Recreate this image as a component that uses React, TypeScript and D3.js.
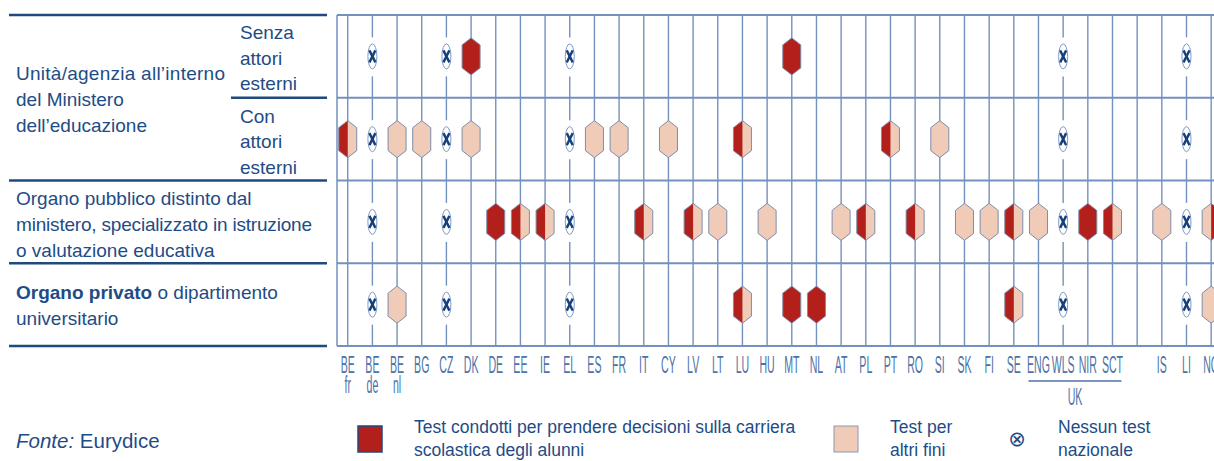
import * as d3 from 'd3';
import React from 'react';

type Mark = 'X' | 'D' | 'L' | 'H' | 'R';

const width = 1214;
const height = 461;

// columns (the empty one separates UK from IS)
const columns = ["BE fr", "BE de", "BE nl", "BG", "CZ", "DK", "DE", "EE", "IE", "EL", "ES", "FR", "IT", "CY", "LV", "LT", "LU", "HU", "MT", "NL", "AT", "PL", "PT", "RO", "SI", "SK", "FI", "SE", "ENG", "WLS", "NIR", "SCT", "gap", "IS", "LI", "NO"];
const ukColumns = ["ENG", "WLS", "NIR", "SCT"];

const rows = ["senza", "con", "pubblico", "privato"];

// X = nessun test, D = decisioni carriera, L = altri fini, H = entrambi, R = entrambi (invertito)
const senzaAttori: [string, Mark][] = [["BE de", "X"], ["CZ", "X"], ["DK", "D"], ["EL", "X"], ["MT", "D"], ["WLS", "X"], ["LI", "X"]];
const conAttori: [string, Mark][] = [["BE fr", "H"], ["BE de", "X"], ["BE nl", "L"], ["BG", "L"], ["CZ", "X"], ["DK", "L"], ["EL", "X"], ["ES", "L"], ["FR", "L"], ["CY", "L"], ["LU", "H"], ["PT", "H"], ["SI", "L"], ["WLS", "X"], ["LI", "X"]];
const organoPubblico: [string, Mark][] = [["BE de", "X"], ["CZ", "X"], ["DE", "D"], ["EE", "H"], ["IE", "H"], ["EL", "X"], ["IT", "H"], ["LV", "H"], ["LT", "L"], ["HU", "L"], ["AT", "L"], ["PL", "H"], ["RO", "H"], ["SK", "L"], ["FI", "L"], ["SE", "H"], ["ENG", "L"], ["WLS", "X"], ["NIR", "D"], ["SCT", "H"], ["IS", "L"], ["LI", "X"], ["NO", "R"]];
const organoPrivato: [string, Mark][] = [["BE de", "X"], ["BE nl", "L"], ["CZ", "X"], ["EL", "X"], ["LU", "H"], ["MT", "D"], ["NL", "D"], ["SE", "H"], ["WLS", "X"], ["LI", "X"], ["NO", "L"]];

const rowData = [senzaAttori, conAttori, organoPubblico, organoPrivato];

const dark = "#B3201B";
const light = "#F0CBB8";
const gridColor = "#7391BF";
const navy = "#1F4A7E";
const textColor = "#1E4C86";
const labelColor = "#4D72A8";
const font = "'Liberation Sans', Arial, sans-serif";

const gridLeft = 337;
const gridTop = 15;
const gridBottom = 346;

const x = d3.scaleBand<string>().domain(columns).range([335.4, 1223.5]);
const y = d3.scaleBand<string>().domain(rows).range([gridTop, gridBottom]);

const cx = (c: string) => (x(c) ?? 0) + x.bandwidth() / 2;
const cy = (r: string) => (y(r) ?? 0) + y.bandwidth() / 2;

const hexW = 18;
const hexH = 37;
const hexS = 7;

function hexPoints(px: number, py: number, side: 'full' | 'left' | 'right') {
    const t = py - hexH / 2, b = py + hexH / 2, l = px - hexW / 2, r = px + hexW / 2;
    if (side === 'left') return [[px, t], [l, t + hexS], [l, b - hexS], [px, b]];
    if (side === 'right') return [[px, t], [r, t + hexS], [r, b - hexS], [px, b]];
    return [[px, t], [r, t + hexS], [r, b - hexS], [px, b], [l, b - hexS], [l, t + hexS]];
}
const pts = (p: number[][]) => p.map(d => d.join(",")).join(" ");

const Marker: React.FC<{ px: number, py: number, mark: Mark }> = ({ px, py, mark }) => {
    if (mark === 'X') {
        return (
            <g>
                <ellipse cx={px} cy={py} rx={4.5} ry={12.5} fill="white" stroke="#7D99C4" strokeWidth={1} />
                <line x1={px - 3} y1={py - 6} x2={px + 3} y2={py + 6} stroke="#173F7A" strokeWidth={2.4} />
                <line x1={px + 3} y1={py - 6} x2={px - 3} y2={py + 6} stroke="#173F7A" strokeWidth={2.4} />
            </g>
        );
    }
    const full = pts(hexPoints(px, py, 'full'));
    return (
        <g>
            <polygon points={full} fill={mark === 'D' ? dark : light} />
            {mark === 'H' && <polygon points={pts(hexPoints(px, py, 'left'))} fill={dark} />}
            {mark === 'R' && <polygon points={pts(hexPoints(px, py, 'right'))} fill={dark} />}
            <polygon points={full} fill="none" stroke="#7E8DAA" strokeWidth={1} />
        </g>
    );
};

const App: React.FC = () => {
    // gaps in the vertical lines around the "no test" symbols
    const gaps = (c: string) => rowData
        .map((r, i) => r.find(d => d[0] === c && d[1] === 'X') ? cy(rows[i]) : null)
        .filter((v): v is number => v !== null);

    const verticalSegments = columns.flatMap(c => {
        const g = gaps(c);
        const segs: [number, number][] = [];
        let start = gridTop;
        g.forEach(gy => { segs.push([start, gy - 19]); start = gy + 20; });
        segs.push([start, gridBottom]);
        return segs.map(s => ({ c, y1: s[0], y2: s[1] }));
    });

    const ukLeft = cx(ukColumns[0]) - 10;
    const ukRight = cx(ukColumns[ukColumns.length - 1]) + 9;

    const tableLine = (x1: number, y1: number) => (
        <line x1={x1} x2={327} y1={y1} y2={y1} stroke={navy} strokeWidth={2.5} />
    );

    return (
        <svg width={width} height={height} style={{ position: 'absolute', left: 0, top: 0 }} fontFamily={font}>
            {/* left table */}
            {tableLine(9, gridTop)}
            {tableLine(231, y("con")!)}
            {tableLine(9, y("pubblico")!)}
            {tableLine(9, y("privato")!)}
            {tableLine(9, gridBottom)}

            <g fill={textColor} fontSize={19}>
                <text x={16} y={80} textLength={209}>Unità/agenzia all’interno</text>
                <text x={16} y={106}>del Ministero</text>
                <text x={16} y={132}>dell’educazione</text>
                <text x={240} y={39}>Senza</text>
                <text x={240} y={65}>attori</text>
                <text x={240} y={90}>esterni</text>
                <text x={240} y={123}>Con</text>
                <text x={240} y={148}>attori</text>
                <text x={240} y={174}>esterni</text>
                <text x={16} y={205}>Organo pubblico distinto dal</text>
                <text x={16} y={231} textLength={296}>ministero, specializzato in istruzione</text>
                <text x={16} y={257}>o valutazione educativa</text>
                <text x={16} y={299}><tspan fontWeight="bold">Organo privato</tspan> o dipartimento</text>
                <text x={16} y={325}>universitario</text>
            </g>

            {/* grid */}
            <line x1={gridLeft} x2={gridLeft} y1={gridTop} y2={gridBottom} stroke={gridColor} strokeWidth={1.5} />
            {verticalSegments.map((s, i) => (
                <line key={i} x1={cx(s.c)} x2={cx(s.c)} y1={s.y1} y2={s.y2} stroke={gridColor} strokeWidth={1.4} />
            ))}
            {[gridTop, ...rows.slice(1).map(r => y(r)!), gridBottom].map((gy, i) => (
                <line key={i} x1={gridLeft} x2={width} y1={gy} y2={gy} stroke={gridColor} strokeWidth={2.2} />
            ))}

            {/* markers */}
            {rowData.map((r, i) => r.map(([c, m]) => (
                <Marker key={i + c} px={cx(c)} py={cy(rows[i])} mark={m} />
            )))}

            {/* country labels */}
            <g fill={labelColor} fontSize={23} textAnchor="middle">
                {columns.filter(c => c !== "gap").map(c => {
                    const [code, sub] = c.split(" ");
                    return (
                        <g key={c} transform={`translate(${cx(c)},0) scale(0.46,1)`}>
                            <text x={0} y={373}>{code}</text>
                            {sub && <text x={0} y={393}>{sub}</text>}
                        </g>
                    );
                })}
                <line x1={ukLeft} x2={ukRight} y1={381} y2={381} stroke={labelColor} strokeWidth={1.5} />
                <g transform={`translate(${(ukLeft + ukRight) / 2},0) scale(0.46,1)`}>
                    <text x={0} y={405}>UK</text>
                </g>
            </g>

            {/* source */}
            <text x={16} y={448} fontSize={20.5} fill={textColor}><tspan fontStyle="italic">Fonte:</tspan> Eurydice</text>

            {/* legend */}
            <rect x={358} y={426} width={24} height={26} fill={dark} stroke={navy} strokeWidth={1.5} />
            <g fill={textColor} fontSize={17.5}>
                <text x={414} y={433}>Test condotti per prendere decisioni sulla carriera</text>
                <text x={414} y={456}>scolastica degli alunni</text>
            </g>
            <rect x={834} y={426} width={24} height={26} fill={light} stroke="#8A97B0" strokeWidth={1} />
            <g fill={textColor} fontSize={17.5}>
                <text x={890} y={433}>Test per</text>
                <text x={890} y={456}>altri fini</text>
            </g>
            <text x={1017} y={446} fontSize={21} fill={textColor} textAnchor="middle" fontFamily="'DejaVu Sans', sans-serif">⊗</text>
            <g fill={textColor} fontSize={17.5}>
                <text x={1058} y={433}>Nessun test</text>
                <text x={1058} y={456}>nazionale</text>
            </g>
        </svg>
    );
};

export default App;
